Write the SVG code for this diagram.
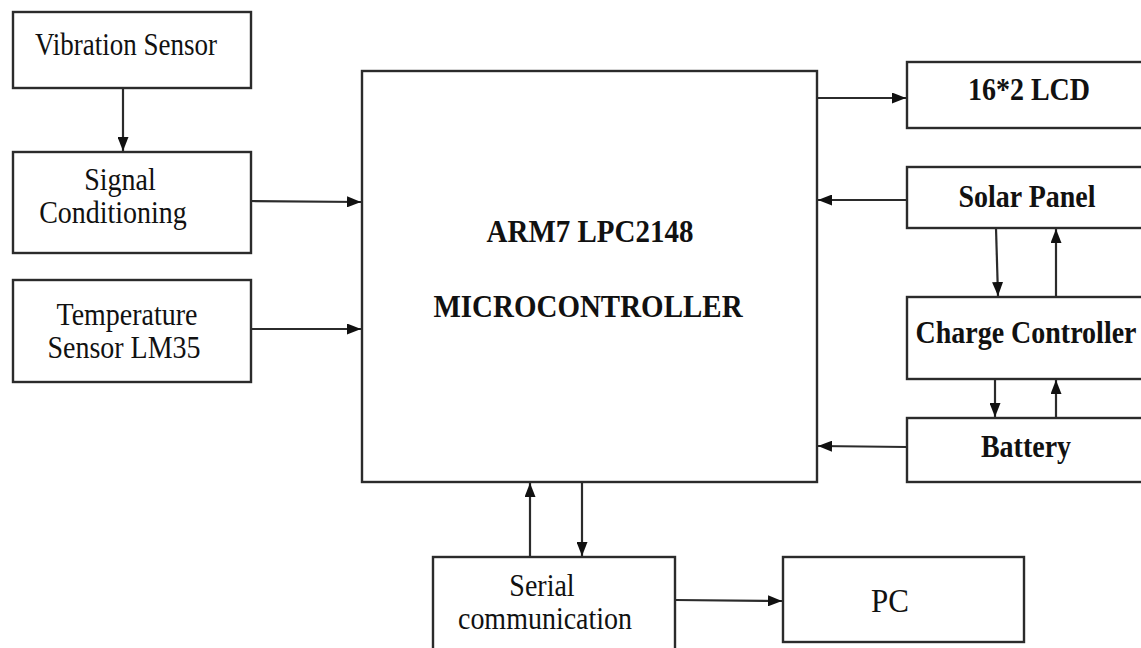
<svg xmlns="http://www.w3.org/2000/svg" width="1141" height="648" viewBox="0 0 1141 648">
<style>
.box{fill:#fff;stroke:#2b2b2b;stroke-width:2.4}
.t{font-family:"Liberation Serif","Times New Roman",serif;font-size:28px;fill:#111;text-anchor:middle}
.b{font-weight:bold}
.c{stroke:#2b2b2b;stroke-width:2.2;fill:none;marker-end:url(#ah)}
</style>
<defs>
<marker id="ah" viewBox="0 0 14 11" refX="14" refY="5.5" markerWidth="14" markerHeight="11" markerUnits="userSpaceOnUse" orient="auto">
<path d="M0,0 L14,5.5 L0,11 Z" fill="#111"/>
</marker>
</defs>
<rect width="1141" height="648" fill="#fff"/>
<g id="connectors">
<line class="c" x1="123" y1="88" x2="123" y2="151"/>
<line class="c" x1="251" y1="201" x2="361" y2="202"/>
<line class="c" x1="251" y1="329" x2="361" y2="329"/>
<line class="c" x1="817" y1="98" x2="906" y2="98"/>
<line class="c" x1="907" y1="200" x2="818" y2="200"/>
<line class="c" x1="907" y1="447" x2="818" y2="446"/>
<line class="c" x1="996" y1="228" x2="998" y2="296"/>
<line class="c" x1="1056" y1="297" x2="1056" y2="229"/>
<line class="c" x1="995" y1="379" x2="995" y2="417"/>
<line class="c" x1="1056" y1="418" x2="1056" y2="380"/>
<line class="c" x1="530" y1="557" x2="530" y2="483"/>
<line class="c" x1="582" y1="482" x2="582" y2="556"/>
<line class="c" x1="675" y1="600" x2="782" y2="601"/>
</g>
<g id="vibration">
<rect class="box" x="13" y="12" width="238" height="76"/>
<text class="t" transform="translate(126,55) scale(1,1.15)" style="font-size:27px">Vibration Sensor</text>
</g>
<g id="signal">
<rect class="box" x="13" y="152" width="238" height="101"/>
<text class="t" transform="translate(120,190) scale(1,1.15)">Signal</text>
<text class="t" transform="translate(113,223) scale(1,1.15)">Conditioning</text>
</g>
<g id="temperature">
<rect class="box" x="13" y="280" width="238" height="102"/>
<text class="t" transform="translate(127,325) scale(1,1.15)">Temperature</text>
<text class="t" transform="translate(124,358) scale(1,1.15)">Sensor LM35</text>
</g>
<g id="mcu">
<rect class="box" x="362" y="71" width="455" height="411"/>
<text class="t b" transform="translate(590,242) scale(1,1.12)" style="font-size:29px">ARM7 LPC2148</text>
<text class="t b" transform="translate(588,317) scale(1,1.12)" style="font-size:29px">MICROCONTROLLER</text>
</g>
<g id="lcd">
<rect class="box" x="907" y="62" width="250" height="66"/>
<text class="t b" transform="translate(1029,100) scale(1,1.12)">16*2 LCD</text>
</g>
<g id="solar">
<rect class="box" x="907" y="167" width="250" height="61"/>
<text class="t b" transform="translate(1027,207) scale(1,1.12)">Solar Panel</text>
</g>
<g id="charge">
<rect class="box" x="907" y="297" width="250" height="82"/>
<text class="t b" transform="translate(1026,343) scale(1,1.12)">Charge Controller</text>
</g>
<g id="battery">
<rect class="box" x="907" y="418" width="250" height="64"/>
<text class="t b" transform="translate(1026,457) scale(1,1.12)">Battery</text>
</g>
<g id="serial">
<rect class="box" x="433" y="557" width="242" height="110"/>
<text class="t" transform="translate(542,596) scale(1,1.15)">Serial</text>
<text class="t" transform="translate(545,629) scale(1,1.15)">communication</text>
</g>
<g id="pc">
<rect class="box" x="783" y="557" width="241" height="85"/>
<text class="t" transform="translate(890,612) scale(1,1.12)" style="font-size:31px">PC</text>
</g>
</svg>
